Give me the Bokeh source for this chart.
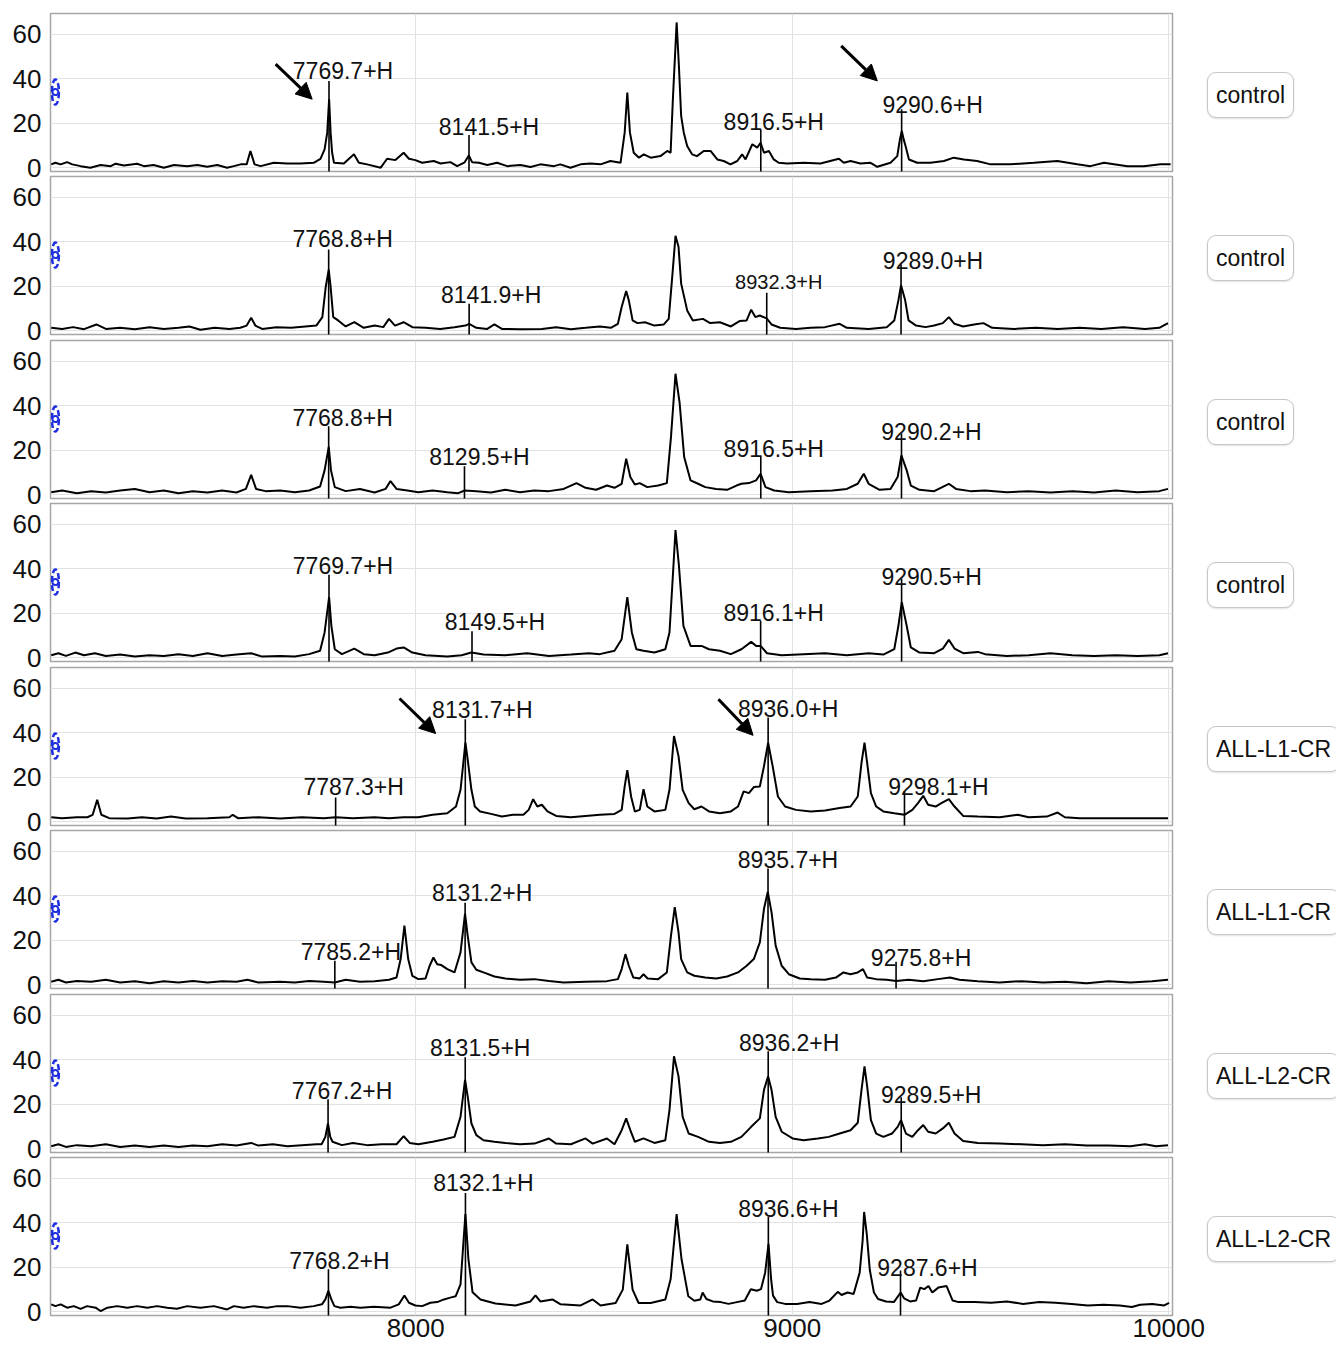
from bokeh.plotting import figure
from bokeh.models import Range1d, FixedTicker, ColumnDataSource, Arrow, NormalHead, Div, Grid
from bokeh.layouts import column, row
from bokeh.embed import file_html
from bokeh.resources import INLINE
from bokeh.core.properties import value

# ---------------- data ----------------
x_ticks = [8000, 9000, 10000]
y_ticks = [0, 20, 40, 60]
panel_labels = ["control", "control", "control", "control",
                "ALL-L1-CR", "ALL-L1-CR", "ALL-L2-CR", "ALL-L2-CR"]

p1_spectrum = [(7032,1.6),(7043,2.3),(7057,1.6),(7074,2.6),(7088,1.6),(7110,0.8),(7136,0.1),(7163,1.3),(7190,0.8),(7203,1.9),(7225,1.1),(7260,1.9),(7278,0.8),(7304,1.3),(7331,0.1),(7358,1.3),(7393,0.8),(7420,1.3),(7446,0.5),(7473,1.3),(7499,0.1),(7517,0.8),(7535,1.6),(7551,1.6),(7561,7.6),(7572,1.6),(7588,0.8),(7623,2.3),(7659,2.0),(7694,2.0),(7729,2.3),(7747,4.1),(7758,8.3),(7765,15.8),(7770,30.8),(7774,15.8),(7778,6.8),(7783,2.3),(7809,2.0),(7836,6.1),(7849,2.3),(7871,1.6),(7907,0.1),(7924,4.1),(7946,3.5),(7968,6.8),(7982,4.1),(7999,3.5),(8017,2.3),(8048,3.1),(8066,2.0),(8092,2.6),(8110,0.8),(8130,2.5),(8141,5.6),(8150,2.5),(8168,2.3),(8190,1.3),(8216,2.3),(8243,0.8),(8278,1.3),(8305,0.4),(8331,1.6),(8367,0.8),(8384,1.6),(8411,0.1),(8438,1.6),(8464,2.0),(8491,1.6),(8517,3.1),(8544,2.3),(8555,15.8),(8562,33.8),(8569,15.8),(8579,6.8),(8593,4.6),(8606,6.1),(8624,4.6),(8650,5.3),(8668,7.6),(8677,6.8),(8683,30.8),(8693,65.2),(8699,45.8),(8705,23.3),(8712,15.8),(8721,9.8),(8734,6.1),(8747,5.3),(8765,7.6),(8783,7.6),(8801,3.8),(8818,3.1),(8836,1.6),(8854,3.1),(8867,6.1),(8876,3.8),(8894,10.6),(8907,9.1),(8916,11.3),(8925,6.8),(8938,7.6),(8951,3.8),(8964,2.3),(8986,2.0),(9031,2.3),(9075,2.0),(9124,4.1),(9137,2.3),(9155,3.1),(9181,2.0),(9208,2.3),(9226,0.5),(9261,2.3),(9279,5.3),(9286,12.8),(9291,16.6),(9296,12.8),(9301,9.8),(9310,3.8),(9332,2.3),(9367,2.3),(9403,3.1),(9429,4.6),(9456,3.8),(9491,3.1),(9527,1.6),(9580,1.6),(9642,2.3),(9704,3.1),(9757,1.6),(9792,0.8),(9828,2.3),(9890,0.8),(9934,0.8),(9978,1.6),(10005,1.6)]

p2_spectrum = [(7032,1.4),(7061,0.9),(7090,1.7),(7119,0.8),(7152,2.9),(7177,0.9),(7215,1.4),(7254,0.8),(7293,1.7),(7331,0.9),(7370,1.4),(7399,2.0),(7428,0.5),(7466,1.4),(7505,0.9),(7534,1.4),(7551,2.4),(7563,5.9),(7574,2.4),(7592,0.9),(7630,1.7),(7669,1.4),(7707,2.0),(7736,2.4),(7752,6.2),(7761,19.7),(7769,27.5),(7774,19.7),(7781,6.2),(7794,4.7),(7814,2.0),(7837,3.9),(7862,1.4),(7891,2.4),(7914,1.7),(7929,5.4),(7945,2.4),(7968,3.9),(7991,1.7),(8026,1.4),(8065,0.9),(8103,1.7),(8132,2.4),(8142,3.2),(8161,1.4),(8190,0.9),(8209,2.9),(8229,0.9),(8277,0.8),(8335,0.9),(8373,1.7),(8412,0.8),(8451,1.4),(8489,2.0),(8518,1.4),(8537,3.2),(8547,10.7),(8559,17.9),(8566,13.7),(8576,4.7),(8589,3.5),(8609,3.9),(8634,2.4),(8659,2.9),(8672,5.4),(8682,25.7),(8690,42.6),(8698,37.7),(8705,21.2),(8721,9.2),(8736,4.7),(8763,5.4),(8782,3.5),(8808,3.9),(8837,2.0),(8860,4.4),(8879,4.7),(8891,9.5),(8902,6.2),(8914,6.9),(8932,5.6),(8945,2.9),(8968,1.4),(9010,0.9),(9049,1.4),(9087,1.7),(9126,3.2),(9145,1.4),(9203,0.9),(9251,1.7),(9271,4.7),(9282,13.7),(9289,20.5),(9300,13.7),(9309,4.7),(9329,2.4),(9354,1.7),(9377,2.4),(9400,3.5),(9416,6.2),(9431,3.2),(9454,2.0),(9483,2.9),(9508,3.5),(9531,1.4),(9589,0.9),(9647,1.4),(9705,0.9),(9763,1.4),(9821,0.9),(9879,1.7),(9937,0.9),(9975,1.4),(9998,3.5)]

p3_spectrum = [(7032,1.2),(7061,2.0),(7100,0.8),(7138,1.7),(7177,1.1),(7215,2.0),(7254,2.7),(7293,1.2),(7331,2.0),(7370,0.8),(7408,1.7),(7447,1.1),(7486,2.0),(7524,1.1),(7549,2.7),(7563,9.0),(7576,2.7),(7601,1.7),(7640,2.0),(7679,1.2),(7717,2.0),(7746,3.8),(7758,11.0),(7769,21.5),(7775,11.0),(7785,3.5),(7814,1.7),(7852,2.7),(7891,1.1),(7920,2.7),(7933,6.2),(7949,2.7),(7978,2.0),(8007,1.2),(8045,2.0),(8084,1.2),(8113,0.8),(8130,2.0),(8161,1.7),(8200,1.1),(8238,2.3),(8277,1.2),(8315,2.0),(8354,1.7),(8393,2.7),(8427,5.3),(8451,3.2),(8479,2.3),(8508,4.2),(8528,3.2),(8547,5.0),(8559,16.2),(8570,8.0),(8582,4.7),(8595,5.3),(8615,3.5),(8644,4.2),(8667,5.3),(8678,26.0),(8690,54.3),(8701,41.1),(8713,17.0),(8730,6.5),(8750,5.0),(8769,3.5),(8798,2.7),(8827,2.3),(8852,4.2),(8865,5.0),(8885,5.3),(8904,6.5),(8916,9.5),(8929,3.5),(8952,2.0),(8991,1.2),(9049,1.7),(9107,2.0),(9145,2.7),(9174,5.0),(9190,9.5),(9203,5.0),(9232,2.3),(9261,2.7),(9280,8.0),(9290,17.7),(9304,11.0),(9315,4.2),(9338,2.3),(9377,1.7),(9416,5.0),(9435,2.7),(9473,1.7),(9512,2.0),(9570,1.2),(9628,1.7),(9686,1.1),(9744,1.7),(9802,1.1),(9859,2.0),(9917,1.2),(9975,1.7),(9998,2.7)]

p4_spectrum = [(7032,1.2),(7051,2.1),(7071,0.9),(7096,2.4),(7119,1.2),(7148,2.1),(7177,0.9),(7215,1.5),(7254,0.6),(7293,1.2),(7331,0.9),(7370,1.7),(7408,0.9),(7447,2.1),(7486,0.9),(7524,1.5),(7563,2.1),(7592,0.6),(7640,0.9),(7679,0.6),(7717,1.7),(7746,3.2),(7758,11.4),(7770,27.2),(7776,14.4),(7785,3.9),(7804,1.7),(7837,4.2),(7862,1.7),(7891,1.2),(7926,2.4),(7949,4.2),(7968,4.7),(7991,2.4),(8026,1.2),(8084,0.6),(8122,1.2),(8148,2.4),(8180,1.5),(8238,1.2),(8296,2.1),(8354,0.9),(8412,1.5),(8460,2.1),(8489,1.7),(8528,3.2),(8547,8.4),(8562,27.2),(8574,11.4),(8586,3.9),(8605,3.2),(8634,2.4),(8663,3.9),(8674,11.4),(8682,34.0),(8690,57.3),(8699,41.5),(8711,14.4),(8730,5.4),(8759,5.4),(8779,3.9),(8808,3.2),(8837,1.7),(8865,3.9),(8891,7.2),(8904,5.4),(8916,5.4),(8933,2.1),(8972,1.2),(9030,1.7),(9087,2.1),(9145,1.2),(9203,2.1),(9242,1.5),(9271,3.9),(9282,14.4),(9291,25.0),(9304,14.4),(9315,4.7),(9338,2.4),(9377,2.1),(9400,4.2),(9416,8.1),(9431,4.2),(9454,2.1),(9493,2.7),(9512,1.7),(9570,0.9),(9628,1.2),(9686,2.1),(9744,1.2),(9802,0.9),(9859,1.2),(9917,0.9),(9975,1.2),(9998,2.1)]

p5_spectrum = [(7032,2.1),(7061,1.7),(7100,2.1),(7128,2.1),(7142,3.2),(7154,9.9),(7165,3.2),(7186,1.7),(7235,1.5),(7273,2.1),(7312,1.5),(7350,2.4),(7389,1.5),(7447,1.7),(7505,2.1),(7514,3.2),(7528,1.7),(7582,2.1),(7640,1.5),(7698,2.1),(7756,1.7),(7787,2.1),(7833,1.7),(7891,2.1),(7929,1.7),(7968,2.1),(8007,2.1),(8045,3.2),(8084,3.9),(8107,6.9),(8119,14.4),(8132,35.5),(8138,28.0),(8148,14.4),(8157,6.9),(8171,4.7),(8200,3.6),(8229,2.4),(8258,3.2),(8286,3.2),(8300,5.4),(8312,10.2),(8323,6.9),(8335,7.7),(8350,4.7),(8373,2.7),(8412,2.1),(8451,2.7),(8489,3.2),(8528,3.6),(8547,5.4),(8555,15.9),(8562,23.2),(8572,11.4),(8582,4.7),(8595,5.4),(8605,14.7),(8615,6.9),(8634,4.7),(8663,5.4),(8674,14.4),(8686,38.5),(8698,29.5),(8709,14.4),(8725,8.4),(8740,5.7),(8759,6.9),(8779,4.7),(8808,3.9),(8837,4.7),(8856,6.9),(8871,13.7),(8885,12.9),(8898,15.6),(8914,15.9),(8925,25.0),(8936,35.5),(8948,25.0),(8962,11.4),(8981,6.9),(9010,5.4),(9049,4.7),(9087,5.1),(9126,6.2),(9155,6.9),(9174,11.4),(9184,26.5),(9192,35.5),(9199,26.5),(9209,12.9),(9223,6.9),(9242,4.7),(9271,3.9),(9298,3.2),(9319,5.4),(9334,8.4),(9348,11.7),(9361,7.7),(9381,6.9),(9396,8.4),(9416,10.2),(9431,6.9),(9454,2.7),(9493,2.4),(9551,2.1),(9599,3.2),(9628,2.1),(9676,2.4),(9705,4.2),(9724,2.1),(9763,1.7),(9821,1.7),(9898,1.7),(9975,1.7),(9998,1.7)]

p6_spectrum = [(7032,1.4),(7051,2.3),(7071,1.1),(7100,1.8),(7138,1.4),(7177,2.3),(7215,1.1),(7254,1.7),(7293,0.8),(7331,1.7),(7370,1.1),(7408,1.8),(7447,1.1),(7486,1.7),(7524,1.4),(7553,2.3),(7582,1.1),(7640,1.4),(7679,1.1),(7717,1.8),(7756,1.4),(7785,1.1),(7814,2.3),(7852,1.4),(7891,1.7),(7929,2.3),(7949,3.3),(7960,11.6),(7970,26.6),(7980,11.6),(7991,4.1),(8007,2.6),(8026,2.9),(8037,8.6),(8047,12.3),(8057,9.3),(8068,8.9),(8084,7.1),(8103,5.6),(8119,14.6),(8131,31.9),(8138,22.1),(8148,10.1),(8161,6.8),(8180,5.6),(8209,3.8),(8238,2.9),(8277,2.3),(8315,2.6),(8354,1.8),(8393,1.1),(8451,1.4),(8508,1.7),(8537,2.6),(8547,7.1),(8557,13.8),(8566,8.6),(8578,3.3),(8595,2.9),(8605,4.8),(8616,2.9),(8644,2.6),(8667,5.6),(8678,22.1),(8688,34.9),(8698,23.6),(8705,11.6),(8721,5.6),(8740,4.1),(8769,3.3),(8798,2.9),(8827,3.8),(8856,5.6),(8879,8.6),(8898,11.6),(8914,19.1),(8925,34.1),(8935,41.7),(8945,32.6),(8956,17.6),(8972,8.6),(8991,4.8),(9020,2.9),(9049,2.6),(9087,2.3),(9116,3.3),(9136,5.6),(9155,4.8),(9174,5.6),(9188,7.1),(9199,3.3),(9223,2.6),(9251,2.3),(9276,1.8),(9309,2.3),(9348,1.7),(9387,2.6),(9419,3.3),(9444,2.3),(9493,1.7),(9551,1.1),(9609,1.7),(9666,1.1),(9724,1.4),(9782,0.8),(9840,1.7),(9898,1.1),(9956,1.7),(9998,2.3)]

p7_spectrum = [(7032,1.2),(7051,2.1),(7071,0.9),(7100,1.7),(7138,1.2),(7177,2.1),(7215,0.9),(7254,1.5),(7293,0.9),(7331,1.5),(7370,0.9),(7408,1.5),(7447,1.2),(7486,2.1),(7524,1.5),(7563,2.7),(7582,1.5),(7621,2.1),(7659,1.2),(7698,1.7),(7736,2.1),(7750,2.1),(7760,5.4),(7767,11.4),(7773,5.4),(7779,3.2),(7804,1.7),(7833,2.7),(7871,1.7),(7910,2.1),(7949,2.1),(7968,5.7),(7984,2.7),(8007,2.1),(8045,3.2),(8074,4.2),(8103,5.4),(8119,14.4),(8131,31.0),(8138,23.5),(8148,11.4),(8161,6.2),(8180,3.9),(8209,3.2),(8238,2.7),(8277,2.1),(8315,2.4),(8354,4.7),(8373,2.4),(8412,2.1),(8451,4.7),(8470,2.4),(8508,4.7),(8528,2.1),(8547,8.4),(8559,13.7),(8570,8.4),(8582,3.2),(8605,4.7),(8634,2.7),(8663,3.9),(8674,17.4),(8686,41.5),(8698,32.5),(8709,14.4),(8725,6.9),(8750,5.4),(8779,3.2),(8808,2.7),(8837,3.2),(8865,5.4),(8891,9.9),(8914,13.7),(8925,26.5),(8936,32.5),(8945,26.5),(8956,14.4),(8972,7.7),(9001,4.7),(9030,3.9),(9068,4.7),(9097,5.4),(9126,6.9),(9155,8.4),(9174,11.7),(9184,26.5),(9192,37.0),(9199,28.0),(9209,12.9),(9223,6.9),(9242,5.4),(9265,6.9),(9280,9.9),(9289,12.9),(9302,6.9),(9319,5.4),(9334,8.4),(9348,10.7),(9361,7.7),(9381,6.9),(9400,9.2),(9416,11.7),(9431,6.9),(9454,3.6),(9493,2.7),(9551,2.4),(9609,2.1),(9666,1.7),(9724,2.1),(9782,1.5),(9840,1.5),(9898,1.2),(9937,2.1),(9966,1.2),(9998,1.7)]

p8_spectrum = [(7032,3.4),(7043,2.6),(7057,3.4),(7074,1.9),(7092,2.6),(7110,1.4),(7127,2.6),(7150,1.9),(7163,0.4),(7181,1.9),(7207,2.6),(7234,1.9),(7260,2.6),(7287,1.9),(7313,2.6),(7340,1.9),(7366,1.4),(7393,2.6),(7428,1.9),(7464,2.6),(7499,1.1),(7517,2.6),(7543,1.9),(7570,2.6),(7605,1.9),(7632,2.6),(7659,2.6),(7694,1.9),(7729,2.6),(7751,3.4),(7760,5.6),(7768,9.4),(7776,5.6),(7784,2.6),(7800,1.9),(7827,2.3),(7853,1.9),(7889,2.3),(7933,1.9),(7955,3.4),(7970,7.4),(7982,4.1),(7999,2.9),(8017,2.6),(8039,4.1),(8057,4.4),(8075,5.6),(8092,6.4),(8106,7.0),(8119,12.4),(8132,43.8),(8140,23.6),(8151,8.8),(8172,5.6),(8212,3.8),(8265,2.9),(8305,4.7),(8318,7.4),(8331,4.7),(8363,5.6),(8385,3.4),(8438,2.9),(8470,5.6),(8491,2.9),(8531,4.0),(8550,10.0),(8562,30.3),(8576,10.0),(8592,4.0),(8624,4.0),(8663,5.6),(8677,14.6),(8693,43.8),(8706,23.6),(8724,7.0),(8740,5.0),(8756,5.6),(8762,8.7),(8772,5.8),(8789,4.7),(8810,4.4),(8831,3.6),(8853,4.4),(8874,5.1),(8890,10.2),(8906,9.5),(8917,10.2),(8928,17.5),(8937,30.5),(8944,14.5),(8949,7.3),(8960,4.4),(8981,3.6),(9013,3.6),(9046,4.4),(9078,3.6),(9099,5.1),(9121,9.0),(9131,7.6),(9147,8.7),(9163,8.0),(9179,17.5),(9187,32.0),(9191,44.8),(9198,34.9),(9206,18.9),(9217,8.7),(9228,5.8),(9249,4.7),(9270,4.4),(9288,8.7),(9297,6.1),(9313,4.7),(9329,5.1),(9340,10.9),(9351,10.2),(9362,11.6),(9372,8.7),(9388,10.9),(9410,11.6),(9426,5.1),(9442,4.4),(9485,4.4),(9528,4.1),(9570,4.7),(9613,3.6),(9656,4.4),(9699,4.1),(9742,3.6),(9785,2.9),(9827,3.2),(9870,2.9),(9902,2.2),(9924,3.2),(9956,3.6),(9988,2.9),(10001,4.1)]

# annotated peaks: m/z of the marker and top of the marker (intensity)
p1_ann_mz = [7769.7, 8141.5, 8916.5, 9290.6]
p1_ann_top = [39.0, 14.8, 17.3, 26.3]
p2_ann_mz = [7768.8, 8141.9, 8932.3, 9289.0]
p2_ann_top = [36.5, 12.2, 17.1, 29.9]
p3_ann_mz = [7768.8, 8129.5, 8916.5, 9290.2]
p3_ann_top = [30.8, 12.8, 17.7, 27.5]
p4_ann_mz = [7769.7, 8149.5, 8916.1, 9290.5]
p4_ann_top = [37.3, 12.0, 16.7, 35.5]
p5_ann_mz = [7787.3, 8131.7, 8936.0, 9298.1]
p5_ann_top = [11.0, 46.0, 46.8, 13.7]
p6_ann_mz = [7785.2, 8131.2, 8935.7, 9275.8]
p6_ann_top = [10.8, 36.8, 52.2, 10.4]
p7_ann_mz = [7767.2, 8131.5, 8936.2, 9289.5]
p7_ann_top = [22.3, 41.1, 43.8, 23.2]
p8_ann_mz = [7768.2, 8132.1, 8936.6, 9287.6]
p8_ann_top = [19.1, 53.3, 42.5, 18.6]

# ---------------- layout / style (pixels) ----------------
p1_lbl_dx, p1_lbl_gap, p1_lbl_fs = [14, 20, 13, 31], [10, 8, 7, 4], [23, 23, 23, 23]
p2_lbl_dx, p2_lbl_gap, p2_lbl_fs = [14, 22, 12, 32], [10, 9, 11, 3], [23, 23, 20, 23]
p3_lbl_dx, p3_lbl_gap, p3_lbl_fs = [14, 15, 13, 30], [8, 9, 6, 2], [23, 23, 23, 23]
p4_lbl_dx, p4_lbl_gap, p4_lbl_fs = [14, 23, 13, 30], [9, 9, 8, 2], [23, 23, 23, 23]
p5_lbl_dx, p5_lbl_gap, p5_lbl_fs = [18, 17, 20, 34], [10, 9, 8, 4], [23, 23, 23, 23]
p6_lbl_dx, p6_lbl_gap, p6_lbl_fs = [16, 17, 20, 25], [9, 10, 8, 4], [23, 23, 23, 23]
p7_lbl_dx, p7_lbl_gap, p7_lbl_fs = [14, 15, 21, 30], [8, 9, 8, 2], [23, 23, 23, 23]
p8_lbl_dx, p8_lbl_gap, p8_lbl_fs = [11, 18, 20, 27], [8, 10, 8, 2], [23, 23, 23, 23]

p1_arrows = [(7628, 46.5, 7725, 30.8), (9130, 54.7, 9226, 39.0)]
p5_arrows = [(7957, 55.3, 8053, 39.6), (8804, 55.0, 8896, 38.8)]

icon_mz, icon_int = 7043, 34

FONT = "Liberation Sans"
X_RANGE = (7030, 10010)
Y_RANGE = (-1.6, 69.2)
FRAME_W, FRAME_H = 1122, 158
TOP_PAD = 13           # space above the first frame
PAD = 16               # canvas room above/below inner frames (overlapped)
GAPS = [5, 6, 5, 6, 5, 6, 5]      # visible space between consecutive frames
AXIS_H = 36            # room for the x tick labels under the last frame

panels = [
    (p1_spectrum, p1_ann_mz, p1_ann_top, p1_lbl_dx, p1_lbl_gap, p1_lbl_fs, p1_arrows),
    (p2_spectrum, p2_ann_mz, p2_ann_top, p2_lbl_dx, p2_lbl_gap, p2_lbl_fs, []),
    (p3_spectrum, p3_ann_mz, p3_ann_top, p3_lbl_dx, p3_lbl_gap, p3_lbl_fs, []),
    (p4_spectrum, p4_ann_mz, p4_ann_top, p4_lbl_dx, p4_lbl_gap, p4_lbl_fs, []),
    (p5_spectrum, p5_ann_mz, p5_ann_top, p5_lbl_dx, p5_lbl_gap, p5_lbl_fs, p5_arrows),
    (p6_spectrum, p6_ann_mz, p6_ann_top, p6_lbl_dx, p6_lbl_gap, p6_lbl_fs, []),
    (p7_spectrum, p7_ann_mz, p7_ann_top, p7_lbl_dx, p7_lbl_gap, p7_lbl_fs, []),
    (p8_spectrum, p8_ann_mz, p8_ann_top, p8_lbl_dx, p8_lbl_gap, p8_lbl_fs, []),
]

rows = []
n = len(panels)
for i, (spec, amz, atop, dx, gap, fs, arrows) in enumerate(panels):
    first = i == 0
    last = i == n - 1
    top_b = TOP_PAD if first else PAD
    bot_b = AXIS_H if last else PAD
    p = figure(frame_width=FRAME_W, frame_height=FRAME_H,
               x_range=Range1d(*X_RANGE), y_range=Range1d(*Y_RANGE),
               output_backend="svg", toolbar_location=None,
               x_axis_location="below" if last else None,
               min_border_left=50, min_border_right=35,
               min_border_top=top_b, min_border_bottom=bot_b)
    p.background_fill_color = "white"
    p.border_fill_color = None
    p.outline_line_color = "#a6a6a6"
    p.outline_line_width = 1.5

    p.center = [r for r in p.center if not isinstance(r, Grid)]
    p.add_layout(Grid(dimension=0, ticker=FixedTicker(ticks=x_ticks),
                      grid_line_color="#e2e2e2", grid_line_width=1), "center")
    p.add_layout(Grid(dimension=1, ticker=FixedTicker(ticks=y_ticks),
                      grid_line_color="#e2e2e2", grid_line_width=1), "center")

    ya = p.yaxis[0]
    ya.ticker = FixedTicker(ticks=y_ticks)
    ya.axis_line_color = None
    ya.major_tick_line_color = None
    ya.minor_tick_line_color = None
    ya.major_tick_out = 0
    ya.major_label_standoff = 9
    ya.major_label_text_font = FONT
    ya.major_label_text_font_size = "26px"
    ya.major_label_text_color = "#111111"

    if last:
        xa = p.xaxis[0]
        xa.ticker = FixedTicker(ticks=x_ticks)
        xa.axis_line_color = None
        xa.major_tick_line_color = None
        xa.minor_tick_line_color = None
        xa.major_tick_out = 0
        xa.major_label_standoff = 3
        xa.major_label_text_font = FONT
        xa.major_label_text_font_size = "26px"
        xa.major_label_text_color = "#111111"

    mz = [a for a, b in spec]
    inten = [b for a, b in spec]
    p.line(mz, inten, line_color="black", line_width=2)

    src = ColumnDataSource(dict(
        x=amz, top=atop, bottom=[-4.0] * len(amz),
        text=[f"{m:.1f}+H" for m in amz],
        dx=dx, dy=[-g for g in gap], fs=[f"{s}px" for s in fs]))
    p.segment(x0="x", y0="bottom", x1="x", y1="top", source=src,
              line_color="black", line_width=1.6)
    p.text(x="x", y="top", text="text", x_offset="dx", y_offset="dy",
           text_font_size="fs", text_font=value(FONT), text_color="#111111",
           text_align="center", text_baseline="alphabetic", source=src)

    for (x0, y0, x1, y1) in arrows:
        p.add_layout(Arrow(end=NormalHead(size=16, fill_color="black", line_color="black"),
                           x_start=x0, y_start=y0, x_end=x1, y_end=y1,
                           line_color="black", line_width=3))

    # small blue scale handle icon
    p.ellipse(x=[icon_mz], y=[icon_int], width=7, height=25,
              width_units="screen", height_units="screen",
              fill_color=None, line_color="#1f2fe0", line_width=2.5, line_dash="6 3")
    p.scatter(x=[icon_mz], y=[icon_int], size=6, marker="circle",
              fill_color=None, line_color="#1f2fe0", line_width=2)

    fig_h = top_b + FRAME_H + bot_b
    box_top = top_b + 59
    html = ('<div style="margin-top:%dpx;display:inline-block;box-sizing:border-box;height:46px;'
            'line-height:44px;padding:0 8px;border:1px solid #c6c6c6;border-radius:9px;'
            'font-family:\'Liberation Sans\',Arial,sans-serif;font-size:23px;color:#111;'
            'white-space:nowrap;background:white;box-shadow:0 1px 2px rgba(0,0,0,0.12);">%s</div>'
            % (box_top, panel_labels[i]))
    d = Div(text=html, width=129, height=fig_h, margin=(0, 0, 0, 0))
    mt = 0 if first else GAPS[i - 1] - 2 * PAD
    rows.append(row(p, d, spacing=0, margin=(mt, 0, 0, 0)))

layout = column(*rows, spacing=0)
open("out.html", "w").write(file_html(layout, INLINE))
